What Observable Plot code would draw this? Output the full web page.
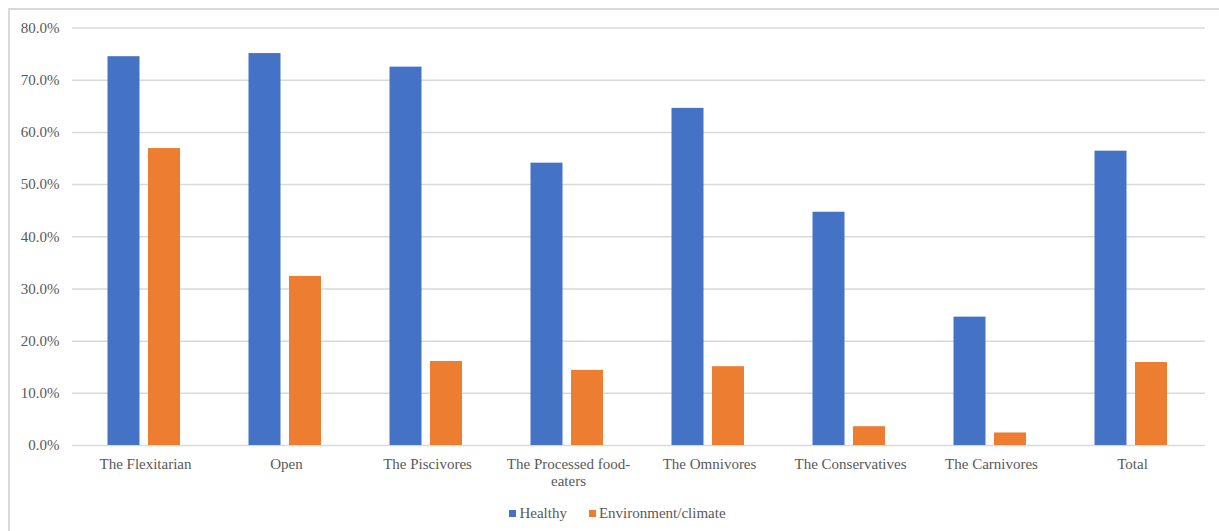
<!DOCTYPE html>
<html>
<head>
<meta charset="utf-8">
<script src="https://cdn.jsdelivr.net/npm/d3@7"></script>
<script src="https://cdn.jsdelivr.net/npm/@observablehq/plot@0.6"></script>
<style>
  html, body { margin: 0; padding: 0; background: #fff; width: 1219px; height: 531px; overflow: hidden; }
  #frame { position: absolute; left: 8px; top: 8px; width: 1400px; height: 700px; border-top: 2px solid #d9d9d9; border-left: 2px solid #d9d9d9; box-sizing: border-box; }
  #chart { position: absolute; left: 0; top: 0; }
  #legend { position: absolute; left: 0; top: 504px; width: 1235px; text-align: center; font-family: "Liberation Serif", "Times New Roman", serif; font-size: 15px; color: #595959; }
  #legend .item { display: inline-flex; align-items: center; margin: 0 11px; }
  #legend .sw { display: inline-block; width: 7px; height: 7px; margin-right: 3px; }
</style>
</head>
<body>
<div id="frame"></div>
<div id="chart"></div>
<div id="legend"></div>
<script>
const categories = ["The Flexitarian", "Open", "The Piscivores", "The Processed food-eaters", "The Omnivores", "The Conservatives", "The Carnivores", "Total"];
const seriesNames = ["Healthy", "Environment/climate"];
const healthy = [74.5, 75.1, 72.5, 54.1, 64.6, 44.7, 24.6, 56.4];
const environment = [56.9, 32.4, 16.1, 14.4, 15.1, 3.6, 2.4, 15.9];
const colors = ["#4472C4", "#ED7D31"];
const yTicks = [0, 10, 20, 30, 40, 50, 60, 70, 80];

const data = categories.flatMap((c, i) => [
  {category: c, series: seriesNames[0], value: healthy[i]},
  {category: c, series: seriesNames[1], value: environment[i]}
]);

const labelFormat = c => c.replace("food-eaters", "food-\neaters");

const chart = Plot.plot({
  width: 1219,
  height: 495,
  marginLeft: 72,
  marginRight: 14,
  marginTop: 27.5,
  marginBottom: 50,
  style: {fontFamily: "'Liberation Serif', 'Times New Roman', serif", fontSize: "15px", color: "#595959", background: "transparent"},
  x: {domain: categories, paddingInner: 0.774, paddingOuter: 0.387, axis: null},
  y: {domain: [0, 80], axis: null},
  color: {domain: seriesNames, range: colors},
  marks: [
    Plot.ruleY(yTicks, {stroke: "#d9d9d9", strokeWidth: 1.5}),
    Plot.barY(data.filter(d => d.series === seriesNames[0]), {x: "category", y: "value", fill: "series", dx: -21.5}),
    Plot.barY(data.filter(d => d.series === seriesNames[1]), {x: "category", y: "value", fill: "series", dx: 19}),
    Plot.axisY(yTicks, {tickSize: 0, tickPadding: 13, tickFormat: d => d.toFixed(1) + "%", fill: "#595959", fontSize: 15, label: null}),
    Plot.axisX({tickSize: 0, tickPadding: 11, tickFormat: labelFormat, fill: "#595959", fontSize: 15, lineHeight: 1.15, label: null})
  ]
});
document.getElementById("chart").appendChild(chart);

const legend = document.getElementById("legend");
seriesNames.forEach((s, i) => {
  const item = document.createElement("span");
  item.className = "item";
  const sw = document.createElement("span");
  sw.className = "sw";
  sw.style.background = colors[i];
  item.appendChild(sw);
  item.appendChild(document.createTextNode(s));
  legend.appendChild(item);
});
</script>
</body>
</html>
